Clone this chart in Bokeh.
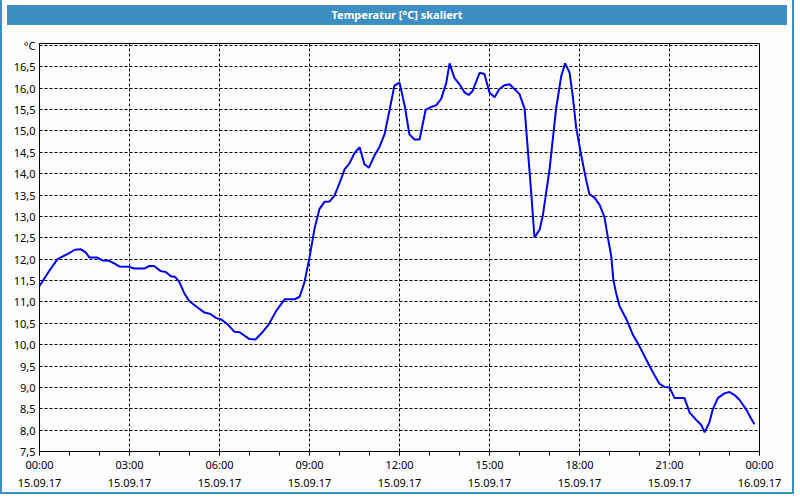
from bokeh.plotting import figure
from bokeh.models import ColumnDataSource, FixedTicker, Div
from bokeh.layouts import column
from bokeh.embed import file_html
from bokeh.resources import INLINE

# ---- data ----
hours = [0.0, 0.3, 0.6, 0.93, 1.18, 1.38, 1.54, 1.66, 1.91, 2.1, 2.32, 2.49, 2.66, 2.99,
         3.16, 3.49, 3.66, 3.82, 4.04, 4.21, 4.38, 4.51, 4.66, 4.82, 4.99, 5.17, 5.5, 5.69,
         5.89, 6.06, 6.28, 6.5, 6.67, 7.0, 7.2, 7.39, 7.64, 7.89, 8.17, 8.5, 8.67, 8.83,
         9.0, 9.17, 9.33, 9.5, 9.67, 9.83, 10.0, 10.17, 10.33, 10.5, 10.67, 10.83, 10.98,
         11.17, 11.33, 11.5, 11.67, 11.83, 12.0, 12.17, 12.33, 12.5, 12.67, 12.87, 13.06,
         13.22, 13.39, 13.56, 13.67, 13.83, 14.0, 14.17, 14.31, 14.44, 14.67, 14.83, 15.0,
         15.17, 15.33, 15.5, 15.67, 15.83, 16.0, 16.17, 16.28, 16.39, 16.5, 16.67, 16.78,
         16.89, 17.0, 17.22, 17.39, 17.52, 17.67, 17.78, 17.89, 18.06, 18.22, 18.33, 18.5,
         18.67, 18.83, 18.94, 19.06, 19.13, 19.22, 19.33, 19.56, 19.78, 20.0, 20.22, 20.44,
         20.67, 20.83, 21.0, 21.17, 21.5, 21.67, 21.89, 22.06, 22.17, 22.33, 22.44, 22.61,
         22.83, 23.0, 23.17, 23.33, 23.56, 23.72, 23.83]
temps = [11.37, 11.7, 12.0, 12.12, 12.22, 12.23, 12.16, 12.04, 12.04, 11.97, 11.96, 11.9,
         11.83, 11.82, 11.78, 11.78, 11.84, 11.84, 11.72, 11.7, 11.6, 11.59, 11.47, 11.21,
         11.02, 10.92, 10.75, 10.72, 10.62, 10.59, 10.47, 10.3, 10.29, 10.13, 10.12, 10.26,
         10.47, 10.79, 11.06, 11.06, 11.12, 11.45, 12.04, 12.72, 13.17, 13.34, 13.35, 13.48,
         13.78, 14.1, 14.24, 14.48, 14.62, 14.22, 14.14, 14.43, 14.62, 14.92, 15.49, 16.06,
         16.13, 15.6, 14.92, 14.8, 14.8, 15.49, 15.56, 15.6, 15.75, 16.13, 16.58, 16.24,
         16.09, 15.9, 15.84, 15.94, 16.36, 16.33, 15.9, 15.79, 15.98, 16.07, 16.09, 15.98,
         15.86, 15.52, 14.54, 13.56, 12.5, 12.69, 13.03, 13.56, 14.09, 15.52, 16.28, 16.58,
         16.36, 15.79, 15.07, 14.42, 13.86, 13.52, 13.44, 13.27, 12.99, 12.53, 12.06, 11.51,
         11.21, 10.91, 10.6, 10.23, 9.96, 9.66, 9.36, 9.08, 9.01, 9.0, 8.75, 8.75, 8.41,
         8.24, 8.12, 7.95, 8.18, 8.48, 8.75, 8.86, 8.89, 8.82, 8.71, 8.48, 8.27, 8.14]

x_ticks = [0, 3, 6, 9, 12, 15, 18, 21, 24]
x_tick_labels = ["00:00\n15.09.17", "03:00\n15.09.17", "06:00\n15.09.17", "09:00\n15.09.17",
                 "12:00\n15.09.17", "15:00\n15.09.17", "18:00\n15.09.17", "21:00\n15.09.17",
                 "00:00\n16.09.17"]
x_minor_ticks = list(range(0, 25))
y_ticks = [7.5, 8.0, 8.5, 9.0, 9.5, 10.0, 10.5, 11.0, 11.5, 12.0, 12.5, 13.0, 13.5, 14.0,
           14.5, 15.0, 15.5, 16.0, 16.5, 17.0]
y_tick_labels = ["7,5", "8,0", "8,5", "9,0", "9,5", "10,0", "10,5", "11,0", "11,5", "12,0",
                 "12,5", "13,0", "13,5", "14,0", "14,5", "15,0", "15,5", "16,0", "16,5", "°C"]

title_text = "Temperatur [°C] skaliert"

BLUE_BAR = "#3d8fc3"
BG = "#fcfdfc"
FONT = "Noto Sans"

src = ColumnDataSource(data=dict(hours=hours, temp=temps))

p = figure(width=780, height=462, x_range=(0, 24), y_range=(7.5, 17.045),
           output_backend="svg", toolbar_location=None,
           min_border_left=37, min_border_right=23, min_border_top=13, min_border_bottom=30,
           background_fill_color=BG, border_fill_color=BG)

p.line(x="hours", y="temp", source=src, line_color="#0000ee", line_width=2)

p.xaxis.ticker = FixedTicker(ticks=x_ticks, minor_ticks=x_minor_ticks)
p.xaxis.major_label_overrides = {t: l for t, l in zip(x_ticks, x_tick_labels)}
p.yaxis.ticker = FixedTicker(ticks=y_ticks)
p.yaxis.major_label_overrides = {t: l for t, l in zip(y_ticks, y_tick_labels)}

p.axis.axis_line_color = "black"
p.axis.major_label_text_font = FONT
p.axis.major_label_text_font_size = "11px"
p.axis.major_label_text_color = "black"

p.xaxis.major_tick_out = 4
p.xaxis.major_tick_in = 0
p.xaxis.minor_tick_out = 4
p.xaxis.minor_tick_in = 0
p.xaxis.major_tick_line_color = "black"
p.xaxis.minor_tick_line_color = "black"
p.xaxis.major_label_standoff = 1

p.yaxis.major_tick_out = 0
p.yaxis.major_tick_in = 0
p.yaxis.minor_tick_line_color = None
p.yaxis.major_label_standoff = 4

p.grid.grid_line_color = "black"
p.grid.grid_line_dash = "3 2"
p.grid.grid_line_width = 1

p.outline_line_color = "black"
p.outline_line_width = 1

title_div = Div(text=title_text, width=780, height=20,
                styles={"background-color": BLUE_BAR, "color": "white", "font-weight": "bold",
                        "font-family": FONT, "font-size": "11px", "text-align": "center",
                        "line-height": "20px"})

layout = column(title_div, p, spacing=0,
                styles={"border-left": "2px solid " + BLUE_BAR,
                        "border-right": "2px solid " + BLUE_BAR,
                        "border-bottom": "2px solid " + BLUE_BAR,
                        "background-color": BG})

open("out.html", "w").write(file_html(layout, INLINE))
